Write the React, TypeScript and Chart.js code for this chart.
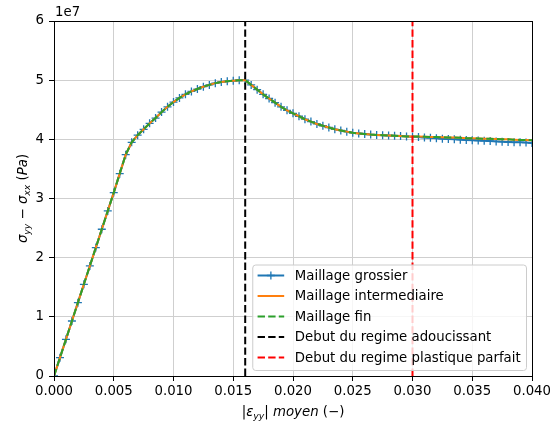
import React, { useEffect, useRef } from "react";
import { Chart, registerables } from "chart.js";

Chart.register(...registerables);

// ---------- data ----------
const strain = [
  0, 0.0005, 0.001, 0.0015, 0.002, 0.0025, 0.003, 0.0035, 0.004, 0.0045,
  0.005, 0.0055, 0.006, 0.0065, 0.007, 0.0075, 0.008, 0.0085, 0.009, 0.0095,
  0.01, 0.0105, 0.011, 0.0115, 0.012, 0.0125, 0.013, 0.0135, 0.014, 0.0145,
  0.015, 0.0155, 0.016, 0.0165, 0.017, 0.0175, 0.018, 0.0185, 0.019, 0.0195,
  0.02, 0.0205, 0.021, 0.0215, 0.022, 0.0225, 0.023, 0.0235, 0.024, 0.0245,
  0.025, 0.0255, 0.026, 0.0265, 0.027, 0.0275, 0.028, 0.0285, 0.029, 0.0295,
  0.03, 0.0305, 0.031, 0.0315, 0.032, 0.0325, 0.033, 0.0335, 0.034, 0.0345,
  0.035, 0.0355, 0.036, 0.0365, 0.037, 0.0375, 0.038, 0.0385, 0.039, 0.0395,
  0.04,
];

// stresses in units of 1e7 Pa
const stressGrossier = [
  0, 0.31, 0.62, 0.93, 1.24, 1.55, 1.86, 2.17, 2.48, 2.79,
  3.1, 3.42, 3.74, 3.95, 4.07, 4.17, 4.27, 4.36, 4.46, 4.55,
  4.63, 4.7, 4.76, 4.81, 4.85, 4.89, 4.92, 4.95, 4.97, 4.98,
  4.99, 5.0, 5.0, 4.92, 4.84, 4.76, 4.69, 4.62, 4.55, 4.49,
  4.44, 4.39, 4.34, 4.3, 4.26, 4.23, 4.2, 4.17, 4.15, 4.13,
  4.11, 4.1, 4.09, 4.08, 4.075, 4.07, 4.065, 4.06, 4.055, 4.05,
  4.045, 4.04, 4.03, 4.025, 4.02, 4.01, 4.005, 4.0, 3.995, 3.99,
  3.985, 3.98, 3.975, 3.97, 3.965, 3.96, 3.955, 3.95, 3.95, 3.945,
  3.94,
];

const stressIntermediaire = [
  0, 0.31, 0.62, 0.93, 1.24, 1.55, 1.86, 2.17, 2.48, 2.79,
  3.1, 3.42, 3.74, 3.95, 4.07, 4.17, 4.27, 4.36, 4.46, 4.55,
  4.63, 4.7, 4.76, 4.81, 4.85, 4.89, 4.92, 4.95, 4.97, 4.98,
  4.99, 5.0, 5.0, 4.92, 4.84, 4.76, 4.69, 4.62, 4.55, 4.49,
  4.44, 4.39, 4.34, 4.3, 4.26, 4.23, 4.2, 4.17, 4.15, 4.13,
  4.11, 4.1, 4.09, 4.08, 4.075, 4.07, 4.065, 4.06, 4.055, 4.05,
  4.05, 4.05, 4.045, 4.04, 4.04, 4.035, 4.03, 4.03, 4.025, 4.02,
  4.02, 4.015, 4.01, 4.01, 4.005, 4.0, 4.0, 3.995, 3.99, 3.99,
  3.985,
];

const stressFin = [
  0, 0.31, 0.62, 0.93, 1.24, 1.55, 1.86, 2.17, 2.48, 2.79,
  3.1, 3.42, 3.74, 3.95, 4.07, 4.17, 4.27, 4.36, 4.46, 4.55,
  4.63, 4.7, 4.76, 4.81, 4.85, 4.89, 4.92, 4.95, 4.97, 4.98,
  4.99, 5.0, 5.0, 4.92, 4.84, 4.76, 4.69, 4.62, 4.55, 4.49,
  4.44, 4.39, 4.34, 4.3, 4.26, 4.23, 4.2, 4.17, 4.15, 4.13,
  4.11, 4.1, 4.09, 4.08, 4.075, 4.07, 4.065, 4.06, 4.055, 4.05,
  4.05, 4.05, 4.045, 4.04, 4.04, 4.035, 4.03, 4.03, 4.025, 4.02,
  4.02, 4.015, 4.01, 4.01, 4.005, 4.0, 4.0, 3.995, 3.99, 3.99,
  3.985,
];

const softeningStrain = 0.016;
const plasticStrain = 0.03;

const seriesLabels = [
  "Maillage grossier",
  "Maillage intermediaire",
  "Maillage fin",
  "Debut du regime adoucissant",
  "Debut du regime plastique parfait",
];

const X_MIN = 0;
const X_MAX = 0.04;
const X_STEP = 0.005;
const Y_MIN = 0;
const Y_MAX = 6;
const Y_STEP = 1;
const Y_FACTOR = 1e7;
const offsetText = "1e7";

// ---------- styles ----------
const FONT = "DejaVu Sans";
const FS = 13.3;
const BLUE = "#1f77b4";
const ORANGE = "#ff7f0e";
const GREEN = "#2ca02c";
const DASH = [7.4, 3.2];

type Seg = { t: string; it?: boolean; sub?: boolean };

function segFont(s: Seg, size: number) {
  return `${s.it ? "italic " : ""}${s.sub ? size * 0.7 : size}px "${FONT}"`;
}

function drawSegs(ctx: CanvasRenderingContext2D, segs: Seg[], x: number, y: number, size: number) {
  let total = 0;
  const widths = segs.map((s) => {
    ctx.font = segFont(s, size);
    const w = ctx.measureText(s.t).width;
    total += w;
    return w;
  });
  let cx = x - total / 2;
  ctx.textAlign = "left";
  ctx.textBaseline = "alphabetic";
  segs.forEach((s, i) => {
    ctx.font = segFont(s, size);
    ctx.fillText(s.t, cx, y + (s.sub ? size * 0.22 : 0));
    cx += widths[i];
  });
}

const xTitle: Seg[] = [
  { t: "|" },
  { t: "ε", it: true },
  { t: "yy", it: true, sub: true },
  { t: "| " },
  { t: "moyen", it: true },
  { t: " (−)" },
];

const yTitle: Seg[] = [
  { t: "σ", it: true },
  { t: "yy", it: true, sub: true },
  { t: " − " },
  { t: "σ", it: true },
  { t: "xx", it: true, sub: true },
  { t: " (" },
  { t: "Pa", it: true },
  { t: ")" },
];

const decorPlugin = {
  id: "decor",
  afterDraw(chart: any) {
    const ctx: CanvasRenderingContext2D = chart.ctx;
    const a = chart.chartArea;
    ctx.save();
    // frame (spines)
    ctx.strokeStyle = "#000";
    ctx.lineWidth = 1;
    const l = Math.round(a.left) + 0.5;
    const r = Math.round(a.right) + 0.5;
    const t = Math.round(a.top) + 0.5;
    const b = Math.round(a.bottom) + 0.5;
    ctx.strokeRect(l, t, r - l, b - t);

    ctx.fillStyle = "#000";
    // offset text
    ctx.font = `${FS}px "${FONT}"`;
    ctx.textAlign = "left";
    ctx.textBaseline = "alphabetic";
    ctx.fillText(offsetText, a.left + 1, 16);

    // x title
    drawSegs(ctx, xTitle, (a.left + a.right) / 2, 416, FS);
    // y title
    ctx.save();
    ctx.translate(27, (a.top + a.bottom) / 2);
    ctx.rotate(-Math.PI / 2);
    drawSegs(ctx, yTitle, 0, 0, FS);
    ctx.restore();

    // legend
    const ds = chart.data.datasets;
    const pad = 0.4 * FS;
    const handleLen = 2 * FS;
    const textPad = 0.8 * FS;
    ctx.font = `${FS}px "${FONT}"`;
    let maxW = 0;
    ds.forEach((d: any) => {
      maxW = Math.max(maxW, ctx.measureText(d.label).width);
    });
    const boxW = pad * 2 + handleLen + textPad + maxW;
    const rowH = 20.5;
    const boxH = rowH * ds.length + 3;
    const bx = a.right - 6 - boxW;
    const by = a.bottom - 6 - boxH;
    ctx.beginPath();
    (ctx as any).roundRect(bx + 0.5, by + 0.5, boxW, boxH, 3);
    ctx.fillStyle = "rgba(255,255,255,0.8)";
    ctx.fill();
    ctx.strokeStyle = "#cccccc";
    ctx.lineWidth = 1;
    ctx.stroke();

    ds.forEach((d: any, i: number) => {
      const cy = by + 11 + i * rowH;
      const hx = bx + pad;
      ctx.strokeStyle = d.borderColor;
      ctx.lineWidth = d.borderWidth;
      ctx.setLineDash(d.borderDash || []);
      ctx.beginPath();
      ctx.moveTo(hx, cy);
      ctx.lineTo(hx + handleLen, cy);
      ctx.stroke();
      ctx.setLineDash([]);
      if (d.pointRadius > 0) {
        const mx = hx + handleLen / 2;
        ctx.lineWidth = d.pointBorderWidth;
        ctx.beginPath();
        ctx.moveTo(mx - 4, cy);
        ctx.lineTo(mx + 4, cy);
        ctx.moveTo(mx, cy - 4);
        ctx.lineTo(mx, cy + 4);
        ctx.stroke();
      }
      ctx.fillStyle = "#000";
      ctx.font = `${FS}px "${FONT}"`;
      ctx.textAlign = "left";
      ctx.textBaseline = "middle";
      ctx.fillText(d.label, hx + handleLen + textPad, cy + 1);
    });
    ctx.restore();
  },
};

function toPoints(xs: number[], ys: number[]) {
  return xs.map((x, i) => ({ x, y: ys[i] * Y_FACTOR }));
}

export default function App() {
  const ref = useRef<HTMLCanvasElement>(null);

  useEffect(() => {
    const canvas = ref.current;
    if (!canvas) return;
    const chart = new Chart(canvas, {
      type: "line",
      data: {
        datasets: [
          {
            label: seriesLabels[0],
            data: toPoints(strain, stressGrossier),
            borderColor: BLUE,
            backgroundColor: BLUE,
            borderWidth: 2,
            pointStyle: "cross",
            pointRadius: 4,
            pointBorderWidth: 1.3,
            pointBorderColor: BLUE,
            order: 5,
          },
          {
            label: seriesLabels[1],
            data: toPoints(strain, stressIntermediaire),
            borderColor: ORANGE,
            backgroundColor: ORANGE,
            borderWidth: 2,
            pointRadius: 0,
            order: 4,
          },
          {
            label: seriesLabels[2],
            data: toPoints(strain, stressFin),
            borderColor: GREEN,
            backgroundColor: GREEN,
            borderWidth: 2,
            borderDash: DASH,
            pointRadius: 0,
            order: 3,
          },
          {
            label: seriesLabels[3],
            data: [
              { x: softeningStrain, y: Y_MIN * Y_FACTOR },
              { x: softeningStrain, y: Y_MAX * Y_FACTOR },
            ],
            borderColor: "#000000",
            backgroundColor: "#000000",
            borderWidth: 2,
            borderDash: DASH,
            pointRadius: 0,
            order: 2,
          },
          {
            label: seriesLabels[4],
            data: [
              { x: plasticStrain, y: Y_MIN * Y_FACTOR },
              { x: plasticStrain, y: Y_MAX * Y_FACTOR },
            ],
            borderColor: "#ff0000",
            backgroundColor: "#ff0000",
            borderWidth: 2,
            borderDash: DASH,
            pointRadius: 0,
            order: 1,
          },
        ],
      },
      options: {
        animation: false,
        responsive: false,
        devicePixelRatio: 1,
        layout: { padding: { top: 21, right: 18, left: 0, bottom: 0 } },
        plugins: {
          legend: { display: false },
          tooltip: { enabled: false },
        },
        elements: { line: { tension: 0 } },
        scales: {
          x: {
            type: "linear",
            min: X_MIN,
            max: X_MAX,
            ticks: {
              stepSize: X_STEP,
              font: { family: FONT, size: FS },
              color: "#000",
              padding: 3,
              maxRotation: 0,
              callback: (v: any) => Number(v).toFixed(3),
            },
            grid: {
              color: "#cfcfcf",
              lineWidth: 1,
              drawTicks: true,
              tickLength: 5,
              tickColor: "#000",
              tickWidth: 1,
            },
            border: { display: true, color: "#000", width: 1 },
            afterFit: (s: any) => {
              s.height = 47;
              s.paddingLeft = 0;
              s.paddingRight = 0;
            },
          },
          y: {
            type: "linear",
            min: Y_MIN * Y_FACTOR,
            max: Y_MAX * Y_FACTOR,
            ticks: {
              stepSize: Y_STEP * Y_FACTOR,
              font: { family: FONT, size: FS },
              color: "#000",
              padding: 5,
              callback: (v: any) => String(Math.round(Number(v) / Y_FACTOR)),
            },
            grid: {
              color: "#cfcfcf",
              lineWidth: 1,
              drawTicks: true,
              tickLength: 5,
              tickColor: "#000",
              tickWidth: 1,
            },
            border: { display: true, color: "#000", width: 1 },
            afterFit: (s: any) => {
              s.width = 54;
              s.paddingTop = 0;
              s.paddingBottom = 0;
            },
          },
        },
      },
      plugins: [decorPlugin],
    } as any);
    return () => chart.destroy();
  }, []);

  return (
    <div style={{ position: "absolute", left: 0, top: 0, width: 550, height: 423, background: "#fff" }}>
      <canvas ref={ref} width={550} height={423} style={{ display: "block" }} />
    </div>
  );
}
